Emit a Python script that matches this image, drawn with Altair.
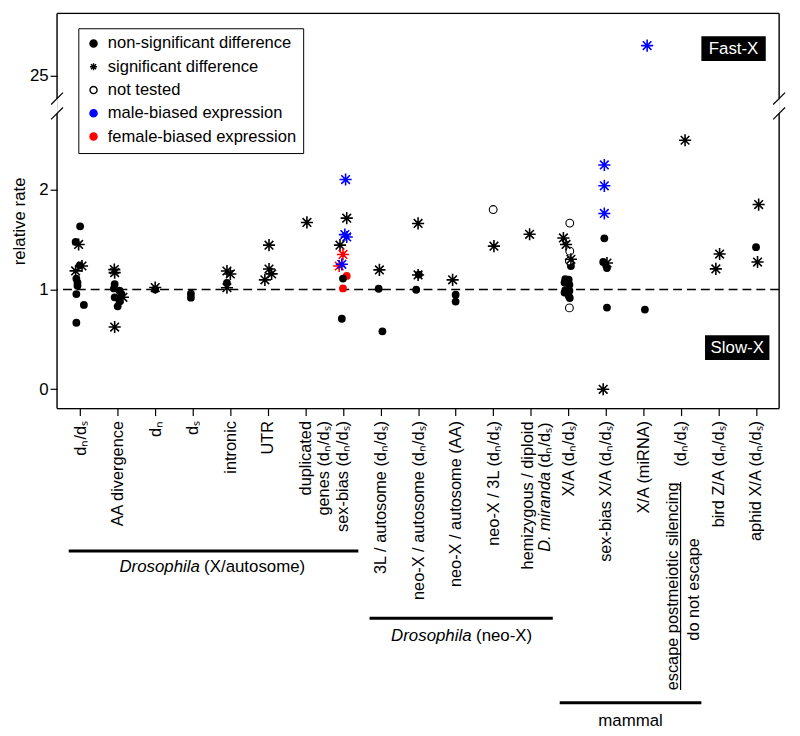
import json
import altair as alt
import pandas as pd

FONT = "Liberation Sans"

# ---------------- axis categories ----------------
x_labels = [
    "dₙ/dₛ", "AA divergence", "dₙ", "dₛ", "intronic", "UTR",
    "duplicated|genes (dₙ/dₛ)", "sex-bias (dₙ/dₛ)",
    "3L / autosome (dₙ/dₛ)", "neo-X / autosome (dₙ/dₛ)", "neo-X / autosome (AA)",
    "neo-X / 3L (dₙ/dₛ)", "", "X/A (dₙ/dₛ)", "sex-bias X/A (dₙ/dₛ)", "X/A (miRNA)",
    "(dₙ/dₛ)", "bird Z/A (dₙ/dₛ)", "aphid X/A (dₙ/dₛ)",
]
y_title = "relative rate"

# ---------------- data ----------------
cat = [0]*12 + [1]*11 + [2]*2 + [3]*2 + [4]*4 + [5]*4 + [6] + [7]*12 + [8]*3 + [9]*4 + [10]*3 + [11]*2 + [12] \
    + [13]*17 + [14]*9 + [15]*2 + [16] + [17]*2 + [18]*3
jit = [0.00, -0.12, -0.04, 0.05, -0.01, -0.12, -0.10, -0.07, -0.07, -0.10, 0.10, -0.10,
       -0.09, -0.08, -0.08, -0.10, 0.05, 0.10, 0.14, -0.08, 0.05, 0.00, -0.08,
       0.00, 0.00,
       -0.05, -0.05,
       -0.09, 0.00, -0.09, -0.09,
       0.03, 0.03, 0.10, -0.08,
       0.04,
       0.07, 0.10, 0.05, 0.10, -0.08, 0.00, -0.10, -0.03, 0.10, 0.00, 0.00, -0.03,
       -0.03, -0.05, 0.05,
       0.00, 0.02, 0.00, -0.05,
       -0.08, 0.00, 0.00,
       0.00, 0.02,
       -0.03,
       0.04, -0.13, -0.06, 0.04, 0.03, 0.07, 0.07, -0.08, 0.01, -0.10, 0.03, -0.08, 0.03, -0.10, 0.01, 0.04, 0.03,
       -0.04, -0.04, -0.04, -0.04, -0.07, 0.03, 0.03, 0.03, -0.07,
       0.10, 0.04,
       0.11,
       0.03, -0.07,
       0.07, 0.00, 0.04]
rate = [1.634, 1.478, 1.452, 1.236, 1.243, 1.187, 1.110, 1.070, 1.038, 0.955, 0.846, 0.667,
        1.200, 1.170, 1.055, 1.011, 0.988, 0.955, 0.922, 0.922, 0.879, 0.832, 0.624,
        1.000, 1.020,
        0.958, 0.918,
        1.186, 1.156, 1.067, 1.018,
        1.445, 1.206, 1.157, 1.097,
        1.673,
        2.103, 1.716, 1.551, 1.527, 1.445, 1.352, 1.236, 1.253, 1.137, 1.110, 1.011, 0.707,
        1.197, 1.008, 0.581,
        1.663, 1.150, 1.146, 0.998,
        1.097, 0.948, 0.879,
        1.802, 1.435,
        1.554,
        1.666, 1.517, 1.452, 1.385, 1.286, 1.303, 1.236, 1.104, 1.100, 1.070, 1.048, 0.995, 0.988, 0.970, 0.938, 0.915, 0.816,
        2.249, 2.040, 1.763, 1.514, 1.276, 1.266, 1.216, 0.819, 0.000,
        25.3, 0.799,
        2.497,
        1.356, 1.207,
        1.852, 1.425, 1.276]
test = ["ns", "ns", "sig", "sig", "ns", "sig", "ns", "ns", "ns", "ns", "ns", "ns",
        "sig", "sig", "ns", "ns", "ns", "ns", "sig", "ns", "ns", "ns", "sig",
        "ns", "sig",
        "ns", "ns",
        "sig", "sig", "ns", "sig",
        "sig", "sig", "sig", "sig",
        "sig",
        "sig", "sig", "sig", "sig", "sig", "sig", "sig", "sig", "ns", "ns", "ns", "ns",
        "sig", "ns", "ns",
        "sig", "ns", "sig", "ns",
        "sig", "ns", "ns",
        "nt", "sig",
        "sig",
        "nt", "sig", "sig", "nt", "nt", "sig", "ns", "ns", "ns", "ns", "ns", "ns", "ns", "ns", "ns", "ns", "nt",
        "sig", "sig", "sig", "ns", "ns", "sig", "ns", "ns", "sig",
        "sig", "ns",
        "sig",
        "sig", "sig",
        "sig", "ns", "sig"]
bias = ["none"]*36 + ["male", "none", "male", "male", "none", "female", "female", "male", "female", "none", "female", "none"] \
    + ["none"]*30 + ["male", "male", "male", "none", "none", "none", "none", "none", "none"] \
    + ["male", "none"] + ["none"]*6

legend_labels = ["non-significant difference", "significant difference", "not tested",
                 "male-biased expression", "female-biased expression"]

BREAK_VALUE = 25      # value shown at the axis break
BREAK_POS = 3.146     # position of that value on the continuous scale

df = pd.DataFrame(dict(cat=cat, jit=jit, rate=rate, test=test, bias=bias))

# ---------------- geometry ----------------
W, H = 729, 399
STAR = "M0,-1L0,1M-1,0L1,0M-0.71,-0.71L0.71,0.71M-0.71,0.71L0.71,-0.71"

label_expr = "split(" + json.dumps(x_labels, ensure_ascii=False) + "[datum.value], '|')"

xscale = alt.Scale(domain=[-0.615, 18.615], nice=False, zero=False)
yscale = alt.Scale(domain=[-0.194, 3.769], nice=False, zero=False)

X = alt.X("xp:Q", scale=xscale, title=None,
          axis=alt.Axis(values=list(range(19)), labelExpr=label_expr, labelAngle=270,
                        labelFontSize=16.5, labelFont=FONT, labelColor="black",
                        tickSize=7, tickColor="black", tickWidth=1.2, labelPadding=5,
                        domain=False, grid=False, labelLineHeight=18, labelOverlap=False,
                        labelFlush=False, labelLimit=400))
Y = alt.Y("yp:Q", scale=yscale, title=None,
          axis=alt.Axis(values=[0, 1, 2, BREAK_POS],
                        labelExpr=f"datum.value > 3 ? '{BREAK_VALUE}' : format(datum.value, 'd')",
                        labelFontSize=17, labelFont=FONT, labelColor="black",
                        tickSize=7, tickColor="black", tickWidth=1.2, labelPadding=2,
                        domain=False, grid=False))
C = alt.Color("bias:N", scale=alt.Scale(domain=["none", "male", "female"],
                                         range=["black", "#0000ff", "#ff0000"]), legend=None)

base = alt.Chart(df).transform_calculate(
    xp="datum.cat + datum.jit",
    yp=f"datum.rate > 10 ? datum.rate - ({BREAK_VALUE} - {BREAK_POS}) : datum.rate",
)

dots = base.transform_filter("datum.test == 'ns'").mark_point(
    shape="circle", filled=True, size=62, opacity=1).encode(x=X, y=Y, color=C)
opens = base.transform_filter("datum.test == 'nt'").mark_point(
    shape="circle", filled=True, fill="white", stroke="black", strokeWidth=1.1, size=62, opacity=1
).encode(x=X, y=Y)
stars = base.transform_filter("datum.test == 'sig'").mark_point(
    shape=STAR, filled=False, size=150, strokeWidth=1.6, opacity=1).encode(x=X, y=Y, color=C)

dash = alt.Chart(pd.DataFrame({"k": [0]})).mark_rule(
    strokeDash=[9, 5], strokeWidth=1.5, color="black").encode(y=alt.datum(1))

# ---------------- legend (drawn by Vega-Lite from a hidden layer) ----------------
LEG = alt.Legend(orient="none", legendX=21.5, legendY=15, title=None,
                 labelFontSize=16.7, labelFont=FONT, labelColor="black", labelLimit=400,
                 labelOffset=6, padding=7, rowPadding=5.5, symbolSize=52,
                 symbolStrokeWidth=1.4, symbolOpacity=1, strokeColor="black",
                 fillColor="white", cornerRadius=0)
leg_df = pd.DataFrame({"lab": legend_labels})
legend_layer = alt.Chart(leg_df).mark_point(strokeWidth=1.4, size=52).encode(
    x=alt.value(0), y=alt.value(0), opacity=alt.value(0),
    shape=alt.Shape("lab:N", scale=alt.Scale(domain=legend_labels,
                    range=["circle", STAR, "circle", "circle", "circle"]), legend=LEG),
    fill=alt.Fill("lab:N", scale=alt.Scale(domain=legend_labels,
                  range=["black", "transparent", "white", "#0000ff", "#ff0000"]), legend=LEG),
    stroke=alt.Stroke("lab:N", scale=alt.Scale(domain=legend_labels,
                      range=["black", "black", "black", "#0000ff", "#ff0000"]), legend=LEG),
)

# ---------------- decorations ----------------
one = pd.DataFrame({"k": [0]})


def seg(x1, y1, x2, y2, w=1.4, color="black"):
    return alt.Chart(one).mark_rule(color=color, strokeWidth=w).encode(
        x=alt.value(x1), x2=alt.value(x2), y=alt.value(y1), y2=alt.value(y2))


def txt(s, x, y, size=17, angle=0, align="center", baseline="middle", style="normal", color="black"):
    return alt.Chart(pd.DataFrame({"t": [s]})).mark_text(
        font=FONT, fontSize=size, angle=angle, align=align, baseline=baseline,
        fontStyle=style, color=color).encode(x=alt.value(x), y=alt.value(y), text="t:N")


def box(x1, y1, x2, y2):
    return alt.Chart(one).mark_rect(color="black").encode(
        x=alt.value(x1), x2=alt.value(x2), y=alt.value(y1), y2=alt.value(y2))


deco = [
    # y-axis title
    txt(y_title, -37.5, 210, size=17, angle=270),
    # frame with break
    seg(0, 0, W, 0), seg(0, H, W, H),
    seg(0, 0, 0, 86), seg(0, 101, 0, H),
    seg(W, 0, W, 86), seg(W, 101, W, H),
    seg(-6, 92, 6, 80, w=1.2), seg(-6, 107, 6, 95, w=1.2),
    seg(W - 6, 92, W + 6, 80, w=1.2), seg(W - 6, 107, W + 6, 95, w=1.2),
    # Fast-X / Slow-X
    box(650.5, 23, 715.5, 48), txt("Fast-X", 683, 36, color="white"),
    box(654.2, 325, 719.2, 350), txt("Slow-X", 686.7, 338, color="white"),
    # hemizygous label
    txt("hemizygous / diploid", 475.5, 412, size=16.5, angle=270, align="right"),
    txt("(dₙ/dₛ)", 493, 413, size=16.5, angle=270, align="right"),
    txt("D. miranda", 493, 463, size=16.5, angle=270, align="right", style="italic"),
    # escape fraction label
    txt("escape postmeiotic silencing", 621.5, 578.5, size=16.5, angle=270),
    seg(629.5, 473, 629.5, 683, w=1.2),
    txt("do not escape", 643.5, 581.5, size=16.5, angle=270),
    # group brackets
    seg(11.8, 542.7, 304.2, 542.7, w=3),
    txt("Drosophila", 144.2, 559, style="italic", align="right"),
    txt("(X/autosome)", 148.5, 559, align="left"),
    seg(315.5, 610.7, 500.5, 610.7, w=3),
    txt("Drosophila", 418.5, 628.5, style="italic", align="right"),
    txt("(neo-X)", 423, 628.5, align="left"),
    seg(507.5, 696, 650.5, 696, w=3),
    txt("mammal", 579, 714),
]

chart = alt.layer(legend_layer, dash, dots, opens, stars, *deco).properties(
    width=W, height=H,
    autosize=alt.AutoSizeParams(type="none"),
    padding={"left": 49.5, "top": 2, "right": 13, "bottom": 320},
).configure_view(stroke=None).configure(font=FONT)

chart.save("out.html", embed_options={"renderer": "svg", "actions": False})
